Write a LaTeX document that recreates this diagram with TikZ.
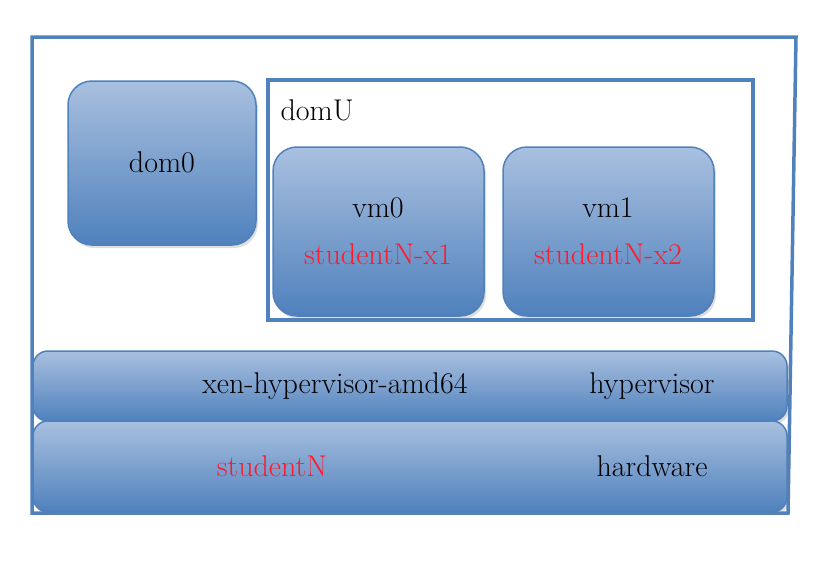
\documentclass[tikz,border=0pt]{standalone}
\usepackage{tikz}
\usetikzlibrary{shadows}
\definecolor{xenblue}{HTML}{4F81BD}
\definecolor{xenlight}{HTML}{A9C0DF}
\definecolor{xenred}{HTML}{FF1A2E}

\begin{document}
\begin{tikzpicture}[x=1pt, y=-1pt,
		box/.style={draw=xenblue, line width=1.5pt, rounded corners=24pt,
			top color=xenlight, bottom color=xenblue, inner sep=0pt,
			drop shadow={opacity=0.25, shadow xshift=2pt, shadow yshift=-3pt}},
		bar/.style={box, rounded corners=15pt},
		lbl/.style={font=\fontsize{30}{36}\selectfont},
		rlbl/.style={lbl, text=xenred}]
		\useasboundingbox (0, 0) rectangle (822, 562);

		\draw[xenblue, line width=3.5pt] (32, 37) -- (796, 37) -- (788, 513) -- (32, 513) -- cycle;
		\draw[xenblue, line width=3.5pt] (268, 80) rectangle (753, 320);

		\node[box, minimum width=188pt, minimum height=164pt] (dom0) at (162, 163) {};
		\node[box, minimum width=211pt, minimum height=169pt] (vm0) at (378.5, 231.5) {};
		\node[box, minimum width=211pt, minimum height=169pt] (vm1) at (608.5, 231.5) {};
		\node[bar, minimum width=754pt, minimum height=70pt] (hyp) at (410, 386) {};
		\node[bar, minimum width=754pt, minimum height=91pt] (hw) at (410, 466.5) {};

		\node[lbl, anchor=west] at (277, 110) {domU};
		\node[lbl] at (162, 162) {dom0};
		\node[lbl] at (378, 208) {vm0};
		\node[rlbl] at (378, 254) {studentN-x1};
		\node[lbl] at (608, 208) {vm1};
		\node[rlbl] at (608, 254) {studentN-x2};
		\node[lbl] at (335, 386) {xen-hypervisor-amd64};
		\node[lbl] at (652, 386) {hypervisor};
		\node[rlbl] at (272, 466) {studentN};
		\node[lbl] at (652, 466) {hardware};
    \end{tikzpicture}
\end{document}
